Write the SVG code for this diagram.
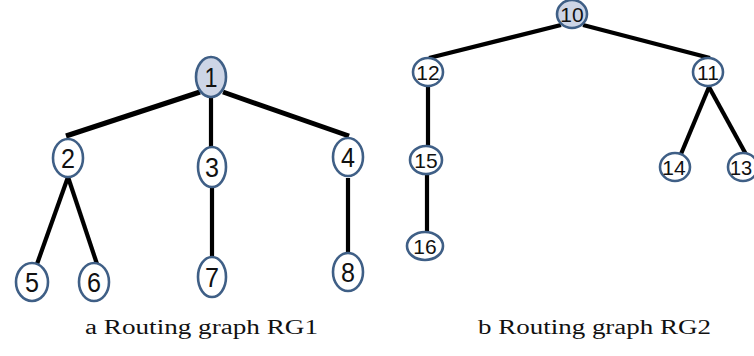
<svg xmlns="http://www.w3.org/2000/svg" width="754" height="356" viewBox="0 0 754 356">
<style>
.n ellipse{fill:#ffffff;stroke:#3f5f86;stroke-width:2.6}
.n.root ellipse{fill:#cdd5e6}
.n text{font-family:"Liberation Sans",Arial,sans-serif;fill:#111;text-anchor:middle}
.L text{font-size:27px}
.R text{font-size:21px}
.e line{stroke:#000;stroke-width:4.2;stroke-linecap:butt}
.cap{font-family:"Liberation Serif","Times New Roman",serif;font-size:20px;fill:#111}
</style>
<rect width="754" height="356" fill="#fff"/>
<g id="connectors" class="e">
<line x1="200" y1="92" x2="66" y2="136" style="stroke-width:5"/>
<line x1="211" y1="97" x2="211" y2="148"/>
<line x1="223" y1="92" x2="349" y2="136" style="stroke-width:5"/>
<line x1="68" y1="177" x2="37" y2="264"/>
<line x1="68" y1="177" x2="97" y2="264"/>
<line x1="212" y1="187" x2="212" y2="258"/>
<line x1="348" y1="178" x2="348" y2="256"/>
<line x1="561" y1="25" x2="429" y2="58"/>
<line x1="583" y1="25" x2="710" y2="58"/>
<line x1="428" y1="86" x2="428" y2="147"/>
<line x1="427" y1="174" x2="427" y2="233"/>
<line x1="709" y1="87" x2="681" y2="154"/>
<line x1="709" y1="87" x2="748" y2="158"/>
</g>
<g id="n1" class="n L root"><ellipse cx="211" cy="77" rx="15" ry="20"/><text x="211" y="87" textLength="13" lengthAdjust="spacingAndGlyphs">1</text></g>
<g id="n2" class="n L"><ellipse cx="68" cy="158" rx="15" ry="19"/><text x="68" y="168" textLength="14" lengthAdjust="spacingAndGlyphs">2</text></g>
<g id="n3" class="n L"><ellipse cx="212" cy="167" rx="14" ry="20"/><text x="212" y="177" textLength="14" lengthAdjust="spacingAndGlyphs">3</text></g>
<g id="n4" class="n L"><ellipse cx="348" cy="157" rx="15" ry="19"/><text x="348" y="167" textLength="14" lengthAdjust="spacingAndGlyphs">4</text></g>
<g id="n5" class="n L"><ellipse cx="32" cy="282" rx="16" ry="19"/><text x="32" y="292" textLength="14" lengthAdjust="spacingAndGlyphs">5</text></g>
<g id="n6" class="n L"><ellipse cx="94" cy="282" rx="15" ry="19"/><text x="94" y="292" textLength="14" lengthAdjust="spacingAndGlyphs">6</text></g>
<g id="n7" class="n L"><ellipse cx="212" cy="277" rx="14" ry="20"/><text x="212" y="287" textLength="14" lengthAdjust="spacingAndGlyphs">7</text></g>
<g id="n8" class="n L"><ellipse cx="348" cy="272" rx="15" ry="19"/><text x="348" y="282" textLength="14" lengthAdjust="spacingAndGlyphs">8</text></g>
<g id="n10" class="n R root"><ellipse cx="572" cy="14" rx="15" ry="14"/><text x="572" y="22">10</text></g>
<g id="n12" class="n R"><ellipse cx="428" cy="72" rx="15" ry="14"/><text x="428" y="80">12</text></g>
<g id="n11" class="n R"><ellipse cx="708" cy="72" rx="15" ry="14"/><text x="708" y="80">11</text></g>
<g id="n15" class="n R"><ellipse cx="426" cy="160" rx="16" ry="14"/><text x="426" y="168">15</text></g>
<g id="n16" class="n R"><ellipse cx="425" cy="246" rx="18" ry="14"/><text x="425" y="254">16</text></g>
<g id="n14" class="n R"><ellipse cx="675" cy="167" rx="15" ry="14"/><text x="674" y="175">14</text></g>
<g id="n13" class="n R"><ellipse cx="743" cy="167" rx="15" ry="14"/><text x="741" y="175" style="font-size:20px">13</text></g>
<text class="cap" x="85" y="334" textLength="233" lengthAdjust="spacingAndGlyphs">a Routing graph RG1</text>
<text class="cap" x="478" y="334" textLength="233" lengthAdjust="spacingAndGlyphs">b Routing graph RG2</text>
</svg>
